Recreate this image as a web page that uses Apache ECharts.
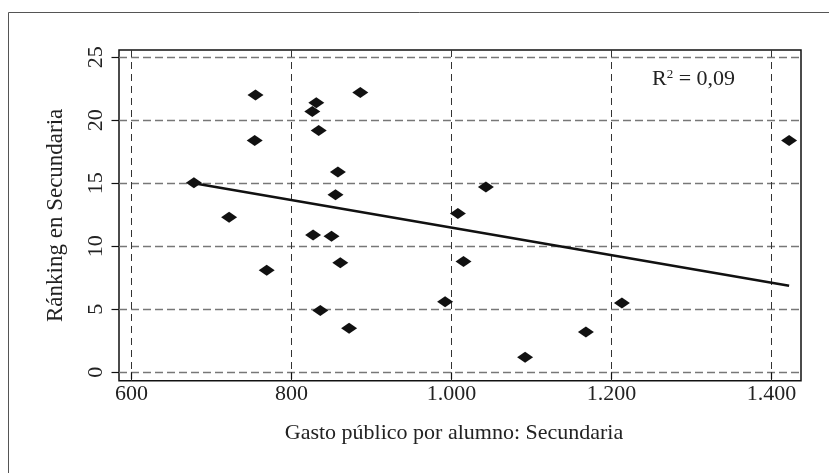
<!DOCTYPE html>
<html>
<head>
<meta charset="utf-8">
<script src="https://cdn.jsdelivr.net/npm/echarts@6/dist/echarts.min.js"></script>
<style>
  html, body { margin: 0; padding: 0; background: #fff; }
  #chart { width: 829px; height: 473px; }
</style>
</head>
<body>
<div id="chart"></div>
<script>
// ---- data ----
const spending = [755, 886, 831, 826, 834, 754, 678, 858, 855, 722, 827, 850, 769, 861, 836, 872, 1043, 1008, 1015, 992, 1092, 1213, 1168, 1422];
const ranking  = [22.0, 22.2, 21.4, 20.7, 19.2, 18.4, 15.05, 15.9, 14.1, 12.3, 10.9, 10.8, 8.1, 8.7, 4.9, 3.5, 14.7, 12.6, 8.8, 5.6, 1.2, 5.5, 3.2, 18.4];
const fitX = [678, 1422];
const fitY = [15.0, 6.87];
const xTicks = [600, 800, 1000, 1200, 1400];
const xTickLabels = ['600', '800', '1.000', '1.200', '1.400'];
const yTicks = [0, 5, 10, 15, 20, 25];
const xTitle = 'Gasto público por alumno: Secundaria';
const yTitle = 'Ránking en Secundaria';
const r2Text = '0,09';

const FONT = '"Liberation Serif", "Times New Roman", serif';
const TXT = '#222';

const points = spending.map((v, i) => [v, ranking[i]]);
const fitLine = fitX.map((v, i) => [v, fitY[i]]);

const chart = echarts.init(document.getElementById('chart'), null, { renderer: 'canvas' });
chart.setOption({
  animation: false,
  backgroundColor: '#fff',
  graphic: [{
    type: 'rect', z: -10,
    shape: { x: 8.5, y: 12.5, width: 900, height: 600 },
    style: { fill: 'none', stroke: '#555', lineWidth: 1 }
  }],
  title: {
    text: 'R{sup|2} = ' + r2Text,
    left: 652, top: 68, padding: 0,
    textStyle: {
      fontFamily: FONT, fontSize: 22, fontWeight: 'normal', color: TXT,
      rich: { sup: { fontFamily: FONT, fontSize: 13, color: TXT, verticalAlign: 'top', padding: [0, 0, 10, 0] } }
    }
  },
  grid: {
    left: 119, top: 50, right: 28, bottom: 92.3,
    show: true, borderColor: '#111', borderWidth: 1.5, backgroundColor: 'transparent'
  },
  xAxis: {
    type: 'value', min: 584.375, max: 1436.875, splitNumber: 4,
    name: xTitle, nameLocation: 'middle', nameGap: 42,
    nameTextStyle: { fontFamily: FONT, fontSize: 22, color: TXT, padding: [0, 12, 0, 0] },
    axisLine: { show: false },
    axisTick: { show: true, inside: false, length: 7, customValues: xTicks, lineStyle: { color: '#111', width: 1.2 } },
    axisLabel: {
      customValues: xTicks, margin: 3,
      fontFamily: FONT, fontSize: 22, color: TXT,
      formatter: (v) => xTickLabels[xTicks.indexOf(Math.round(v))] || ''
    },
    splitLine: { show: true, lineStyle: { color: '#333', width: 1, type: [7, 5] } }
  },
  yAxis: {
    type: 'value', min: -0.667, max: 25.58, splitNumber: 5,
    name: yTitle, nameLocation: 'middle', nameGap: 52,
    nameTextStyle: { fontFamily: FONT, fontSize: 23, color: TXT },
    axisLine: { show: false },
    axisTick: { show: true, inside: false, length: 7.5, customValues: yTicks, lineStyle: { color: '#111', width: 1.2 } },
    axisLabel: {
      customValues: yTicks, rotate: 90, margin: 12,
      fontFamily: FONT, fontSize: 22, color: TXT
    },
    splitLine: { show: true, lineStyle: { color: '#777', width: 1.3, type: [8, 4] } }
  },
  series: [
    {
      type: 'scatter', data: points,
      symbol: 'diamond', symbolSize: [16, 11],
      itemStyle: { color: '#111', opacity: 1 }, z: 3
    },
    {
      type: 'line', data: fitLine, symbol: 'none',
      lineStyle: { color: '#111', width: 2.6 }, z: 4
    }
  ]
});
</script>
</body>
</html>
